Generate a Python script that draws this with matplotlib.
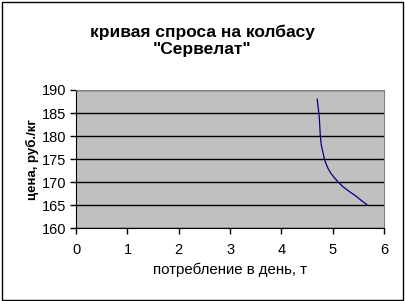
import matplotlib.pyplot as plt
from matplotlib.patches import Rectangle

# demand curve: price (rub/kg) vs daily consumption (t)
price = [188, 187, 186, 185, 184, 183, 182, 181, 180, 179, 178, 177,
         176, 175, 174, 173, 172, 171, 170, 169, 168, 167, 166, 165]
quantity = [4.70, 4.71, 4.72, 4.73, 4.74, 4.745, 4.75, 4.755, 4.76, 4.77, 4.78, 4.80,
            4.82, 4.84, 4.87, 4.91, 4.96, 5.03, 5.11, 5.20, 5.32, 5.45, 5.56, 5.68]

plt.rcParams['font.family'] = ['Liberation Sans', 'DejaVu Sans']

fig = plt.figure(figsize=(4.05, 3.01), dpi=100)
fig.patch.set_facecolor('white')
fig.add_artist(Rectangle((0.004, 0.004), 0.99, 0.99, transform=fig.transFigure,
                         fill=False, edgecolor='black', linewidth=1))

ax = fig.add_axes([0.188, 0.242, 0.760, 0.459])
ax.set_facecolor('#c0c0c0')
ax.plot(quantity, price, color='#000080', linewidth=0.9)

ax.set_xlim(0, 6)
ax.set_ylim(160, 190)
ax.set_xticks(range(0, 7))
ax.set_yticks(range(160, 191, 5))
ax.yaxis.grid(True, color='black', linewidth=1)
ax.set_axisbelow(True)

for side in ('top', 'right'):
    ax.spines[side].set_color('#808080')
for side in ('left', 'bottom'):
    ax.spines[side].set_color('black')
ax.tick_params(direction='out', length=4, width=1, labelsize=10.5, pad=3)
ax.tick_params(axis='x', pad=7)

ax.set_xlabel('потребление в день, т', fontsize=10.8, labelpad=4)
ax.set_ylabel('цена, руб./кг', fontsize=9.5, fontweight='bold', labelpad=2)
fig.suptitle('кривая спроса на колбасу\n"Сервелат"', fontsize=12.5,
             fontweight='bold', y=0.918, linespacing=1.15)

fig.savefig('out.png', dpi=100)
